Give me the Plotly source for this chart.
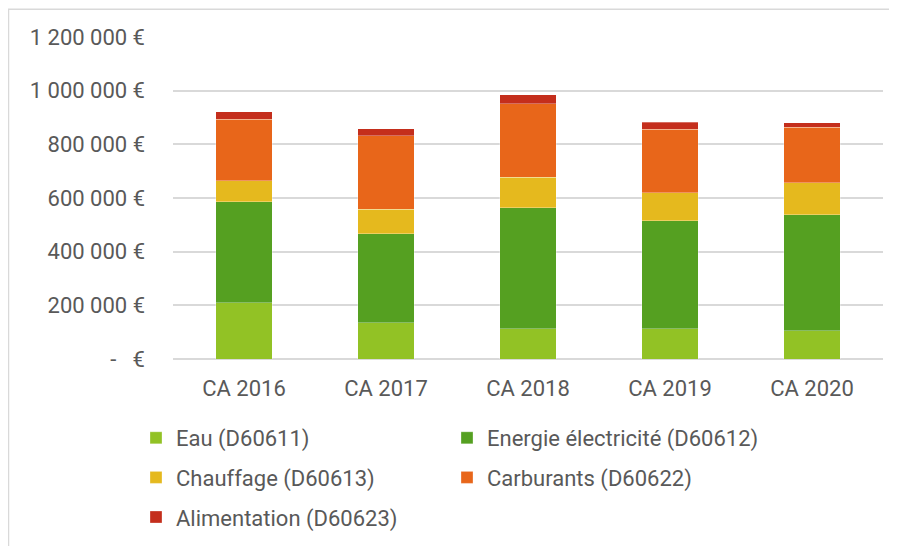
import plotly.graph_objects as go

categories = ["CA 2016", "CA 2017", "CA 2018", "CA 2019", "CA 2020"]
eau = [209000, 135000, 112000, 112000, 105000]
energie = [377000, 332000, 452000, 404000, 433000]
chauffage = [78000, 92000, 114000, 104000, 119000]
carburants = [230000, 273000, 274000, 237000, 207000]
alimentation = [27000, 26000, 32000, 25000, 16000]

series_names = ["Eau (D60611)", "Energie électricité (D60612)", "Chauffage (D60613)",
                "Carburants (D60622)", "Alimentation (D60623)"]
series_values = [eau, energie, chauffage, carburants, alimentation]
colors = ["#92c225", "#55a021", "#e5b91e", "#e8661a", "#c42e1c"]
legends = ["legend", "legend2", "legend", "legend2", "legend"]

tick_vals = [0, 200000, 400000, 600000, 800000, 1000000, 1200000]
tick_text = ["-   €", "200 000 €", "400 000 €", "600 000 €", "800 000 €", "1 000 000 €", "1 200 000 €"]

FONT = "Roboto"
TXT = "#595959"
FS = 22

W, H = 889, 538
L, R, T, B = 165, 14, 28.7, 186.7
PW, PH = W - L - R, H - T - B

fig = go.Figure()
for name, vals, col, lg in zip(series_names, series_values, colors, legends):
    fig.add_trace(go.Bar(x=categories, y=vals, name=name, marker_color=col,
                         marker_line=dict(color="rgba(255,255,255,0.6)", width=0.5),
                         legend=lg, legendgroup=name))

leg_common = dict(yref="container", xref="container", y=1 - 409 / H, yanchor="top",
                  xanchor="left", orientation="v", tracegroupgap=8,
                  font=dict(family=FONT, size=FS, color=TXT), itemwidth=30,
                  bgcolor="rgba(0,0,0,0)")

fig.update_layout(
    width=W, height=H,
    barmode="stack", bargap=0.6,
    paper_bgcolor="white", plot_bgcolor="white",
    margin=dict(l=L, r=R, t=T, b=B, autoexpand=False),
    font=dict(family=FONT, size=FS, color=TXT),
    legend=dict(x=128 / W, **leg_common),
    legend2=dict(x=439 / W, **leg_common),
    shapes=[dict(type="rect", xref="paper", yref="paper",
                 x0=(0.5 - L) / PW, x1=(882 - L) / PW,
                 y0=-(B + 20) / PH, y1=(H - B - 1) / PH,
                 line=dict(color="#d9d9d9", width=1.5), fillcolor="rgba(0,0,0,0)", layer="below")],
)
fig.update_yaxes(range=[0, 1200000], tickvals=tick_vals, ticktext=tick_text,
                 showgrid=True, gridcolor="#d9d9d9", gridwidth=1.5,
                 zeroline=True, zerolinecolor="#d9d9d9", zerolinewidth=1.5,
                 ticks="", ticklabelstandoff=27, showline=False)
fig.update_xaxes(ticks="", showline=False, ticklabelstandoff=14)

fig.write_html("out.html")
